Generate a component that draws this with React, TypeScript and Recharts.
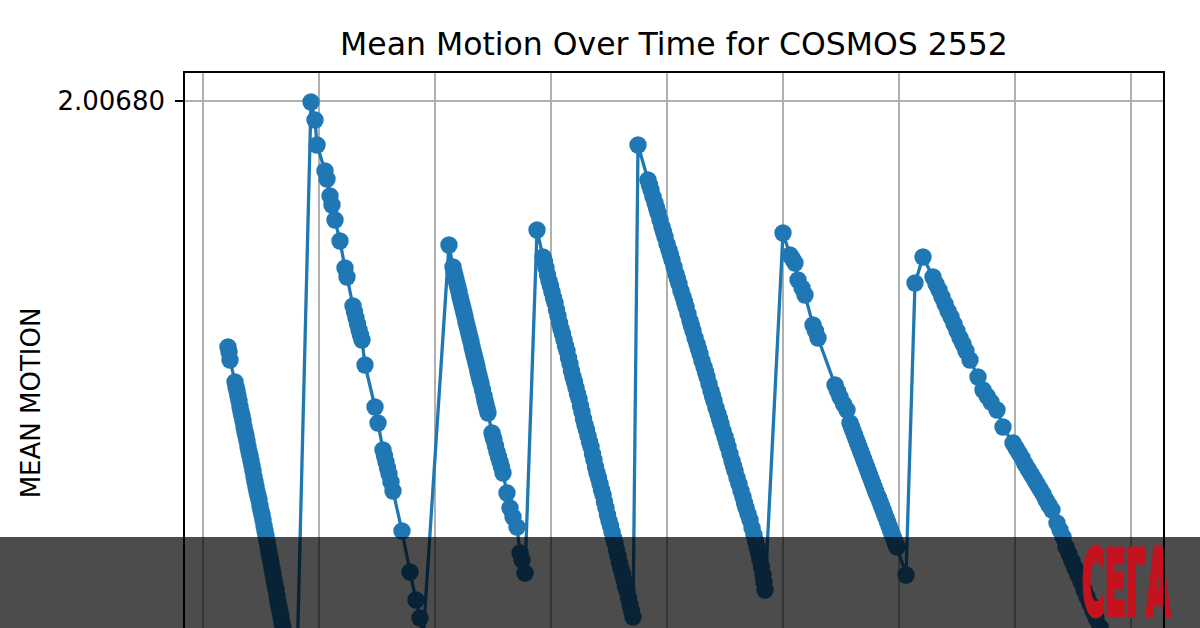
import React from 'react';
import { LineChart, Line, XAxis, YAxis, CartesianGrid, ReferenceArea } from 'recharts';

const chartTitle = 'Mean Motion Over Time for COSMOS 2552';
const yAxisLabel = 'MEAN MOTION';
const logoText = 'СЕГА';
const xTicks = [0, 20, 40, 60, 80, 100, 120, 140, 160];
const yTicks = [2.0068];
const xDomain: [number, number] = [-3.276, 165.69];
const yDomain: [number, number] = [2.0067367, 2.0068029];

// [day, mean motion (rev/day)]
const cycle1: [number, number][] = [
  [4.31, 2.0067754], [4.48, 2.0067749], [4.66, 2.0067741], [5.52, 2.0067719], [5.69, 2.0067714],
  [5.86, 2.006771], [6.03, 2.0067705], [6.21, 2.00677], [6.38, 2.0067694], [6.55, 2.0067689],
  [6.72, 2.0067685], [6.9, 2.006768], [7.07, 2.0067674], [7.24, 2.0067669], [7.41, 2.0067665],
  [7.59, 2.006766], [7.76, 2.0067654], [7.93, 2.0067649], [8.1, 2.0067645], [8.28, 2.006764],
  [8.45, 2.0067635], [8.62, 2.006763], [8.79, 2.0067624], [8.97, 2.0067619], [9.14, 2.0067614],
  [9.31, 2.0067609], [9.48, 2.0067605], [9.66, 2.0067601], [9.83, 2.0067595], [10.0, 2.006759],
  [10.17, 2.0067586], [10.34, 2.0067581], [10.52, 2.0067575], [10.69, 2.006757], [10.86, 2.0067565],
  [11.03, 2.006756], [11.2, 2.0067554], [11.38, 2.0067548], [11.55, 2.0067543], [11.72, 2.0067538],
  [11.9, 2.0067532], [12.07, 2.0067527], [12.24, 2.0067521], [12.41, 2.0067516], [12.59, 2.0067511],
  [12.76, 2.0067505], [12.93, 2.0067499], [13.1, 2.0067494], [13.28, 2.0067489], [13.45, 2.0067484],
  [13.62, 2.0067478], [13.79, 2.0067473], [13.97, 2.0067467], [14.14, 2.0067461], [14.31, 2.0067455],
  [14.48, 2.0067449], [14.66, 2.0067444], [14.83, 2.0067438], [15.0, 2.0067432], [15.17, 2.0067426],
  [15.34, 2.006742], [15.52, 2.0067413], [15.69, 2.0067408], [15.86, 2.0067403], [16.03, 2.0067397],
];
const cycle2: [number, number][] = [
  [18.62, 2.0067999], [19.31, 2.0067981], [19.66, 2.0067956], [21.03, 2.006793], [21.38, 2.0067922],
  [21.9, 2.0067905], [22.24, 2.0067896], [22.76, 2.0067881], [23.62, 2.006786], [24.48, 2.0067833],
  [24.83, 2.0067824], [25.86, 2.0067795], [26.12, 2.0067789], [26.38, 2.0067783], [26.64, 2.0067777],
  [26.9, 2.0067771], [27.15, 2.0067766], [27.41, 2.0067761], [27.93, 2.0067736], [29.66, 2.0067694],
  [30.17, 2.0067678], [31.03, 2.0067651], [31.29, 2.0067645], [31.55, 2.0067639], [31.81, 2.0067633],
  [32.07, 2.0067627], [32.41, 2.0067619], [32.76, 2.006761], [34.31, 2.006757], [35.69, 2.0067529],
  [36.72, 2.0067501], [37.41, 2.0067483], [37.93, 2.0067461],
];
const cycle3: [number, number][] = [
  [42.41, 2.0067856], [43.1, 2.0067834], [43.28, 2.0067829], [43.45, 2.0067825], [43.62, 2.0067821],
  [43.79, 2.0067817], [43.97, 2.0067813], [44.14, 2.0067809], [44.31, 2.0067804], [44.48, 2.00678],
  [44.66, 2.0067796], [44.83, 2.0067792], [45.0, 2.0067788], [45.17, 2.0067784], [45.34, 2.0067779],
  [45.52, 2.0067775], [45.69, 2.0067771], [45.86, 2.0067767], [46.03, 2.0067763], [46.21, 2.0067759],
  [46.38, 2.0067754], [46.55, 2.006775], [46.72, 2.0067746], [46.9, 2.0067742], [47.07, 2.0067738],
  [47.24, 2.0067734], [47.41, 2.0067729], [47.59, 2.0067725], [47.76, 2.0067721], [47.93, 2.0067717],
  [48.19, 2.0067711], [48.45, 2.0067705], [48.62, 2.00677], [48.79, 2.0067696], [48.97, 2.0067692],
  [49.14, 2.0067688], [49.83, 2.0067668], [50.0, 2.0067664], [50.17, 2.0067661], [50.43, 2.0067655],
  [50.69, 2.0067649], [50.95, 2.0067644], [51.21, 2.0067639], [51.47, 2.0067634], [51.72, 2.0067628],
  [52.41, 2.0067608], [52.93, 2.0067593], [53.45, 2.0067584], [54.14, 2.0067574], [54.66, 2.0067548],
  [55.0, 2.0067541], [55.52, 2.0067528],
];
const cycle4: [number, number][] = [
  [57.59, 2.0067871], [58.62, 2.0067844], [58.88, 2.0067839], [59.14, 2.0067833], [59.4, 2.0067826],
  [59.66, 2.006782], [59.91, 2.0067815], [60.17, 2.0067809], [60.43, 2.0067803], [60.69, 2.0067798],
  [60.95, 2.0067791], [61.21, 2.0067785], [61.47, 2.0067778], [61.72, 2.0067772], [61.98, 2.0067767],
  [62.24, 2.0067761], [62.5, 2.0067755], [62.76, 2.006775], [63.02, 2.0067743], [63.28, 2.0067737],
  [63.53, 2.006773], [63.79, 2.0067724], [64.05, 2.0067719], [64.31, 2.0067713], [64.57, 2.0067707],
  [64.83, 2.0067702], [65.09, 2.0067695], [65.34, 2.0067689], [65.6, 2.0067682], [65.86, 2.0067676],
  [66.12, 2.0067671], [66.38, 2.0067665], [66.64, 2.0067659], [66.9, 2.0067654], [67.16, 2.0067647],
  [67.41, 2.0067641], [67.67, 2.0067634], [67.93, 2.0067628], [68.19, 2.0067623], [68.45, 2.0067617],
  [68.71, 2.0067611], [68.97, 2.0067606], [69.22, 2.0067599], [69.48, 2.0067593], [69.74, 2.0067586],
  [70.0, 2.006758], [70.26, 2.0067575], [70.52, 2.0067569], [70.78, 2.0067563], [71.03, 2.0067558],
  [71.29, 2.0067551], [71.55, 2.0067545], [71.81, 2.0067538], [72.07, 2.0067532], [72.33, 2.0067527],
  [72.59, 2.0067521], [72.84, 2.0067515], [73.1, 2.006751], [73.36, 2.0067503], [73.62, 2.0067496],
  [73.88, 2.006749], [74.14, 2.0067484],
];
const cycle5: [number, number][] = [
  [75.0, 2.0067956], [76.72, 2.0067921], [76.98, 2.0067916], [77.24, 2.0067911], [77.59, 2.0067904],
  [77.93, 2.0067898], [78.19, 2.0067893], [78.45, 2.0067888], [78.79, 2.0067881], [79.14, 2.0067874],
  [79.4, 2.0067869], [79.66, 2.0067864], [80.0, 2.0067857], [80.34, 2.0067851], [80.6, 2.0067846],
  [80.86, 2.0067841], [81.21, 2.0067834], [81.55, 2.0067827], [81.81, 2.0067822], [82.07, 2.0067817],
  [82.41, 2.006781], [82.76, 2.0067804], [83.02, 2.0067799], [83.28, 2.0067794], [83.62, 2.0067787],
  [83.97, 2.006778], [84.22, 2.0067775], [84.48, 2.006777], [84.83, 2.0067763], [85.17, 2.0067757],
  [85.43, 2.0067752], [85.69, 2.0067747], [86.03, 2.006774], [86.38, 2.0067734], [86.64, 2.0067729],
  [86.9, 2.0067724], [87.24, 2.0067717], [87.59, 2.006771], [87.84, 2.0067705], [88.1, 2.00677],
  [88.45, 2.0067693], [88.79, 2.0067687], [89.05, 2.0067682], [89.31, 2.0067677], [89.66, 2.006767],
  [90.0, 2.0067664], [90.26, 2.0067659], [90.52, 2.0067654], [90.86, 2.0067647], [91.21, 2.006764],
  [91.47, 2.0067635], [91.72, 2.006763], [92.07, 2.0067623], [92.41, 2.0067617], [92.76, 2.006761],
  [93.1, 2.0067604], [93.36, 2.0067598], [93.62, 2.0067593], [93.97, 2.0067587], [94.31, 2.0067581],
  [94.66, 2.0067573], [95.0, 2.0067566], [95.26, 2.006756], [95.52, 2.0067554], [95.78, 2.0067548],
  [96.03, 2.0067541], [96.29, 2.0067534], [96.55, 2.0067526], [96.72, 2.0067519], [96.9, 2.0067511],
];
const cycle6: [number, number][] = [
  [100.0, 2.0067868], [101.21, 2.0067846], [101.64, 2.0067842], [102.07, 2.0067838], [102.59, 2.0067821],
  [103.28, 2.0067813], [103.79, 2.0067806], [105.17, 2.0067776], [105.6, 2.006777], [106.03, 2.0067763],
  [108.97, 2.0067716], [109.4, 2.006771], [109.83, 2.0067704], [110.43, 2.0067697], [111.03, 2.0067691],
  [111.55, 2.0067678], [111.81, 2.0067674], [112.07, 2.006767], [112.33, 2.0067666], [112.59, 2.0067662],
  [112.84, 2.0067658], [113.1, 2.0067654], [113.36, 2.006765], [113.62, 2.0067646], [113.88, 2.0067642],
  [114.14, 2.0067638], [114.4, 2.0067634], [114.66, 2.006763], [114.91, 2.0067626], [115.17, 2.0067622],
  [115.43, 2.0067618], [115.69, 2.0067614], [115.95, 2.006761], [116.21, 2.0067606], [116.47, 2.0067603],
  [116.72, 2.0067599], [116.98, 2.0067595], [117.24, 2.0067591], [117.5, 2.0067587], [117.76, 2.0067583],
  [118.02, 2.0067579], [118.28, 2.0067575], [118.53, 2.0067571], [118.79, 2.0067567], [119.05, 2.0067563],
  [119.31, 2.0067559], [119.48, 2.0067556], [119.66, 2.0067554], [121.21, 2.0067526],
];
const cycle7: [number, number][] = [
  [122.76, 2.0067818], [124.14, 2.0067844], [125.86, 2.0067824], [126.38, 2.0067817], [126.9, 2.0067811],
  [127.41, 2.0067804], [127.93, 2.0067797], [128.45, 2.006779], [128.97, 2.0067784], [129.48, 2.0067777],
  [130.0, 2.006777], [130.52, 2.0067763], [131.03, 2.0067757], [131.55, 2.006775], [132.24, 2.0067741],
  [133.62, 2.0067724], [134.48, 2.0067711], [135.17, 2.0067705], [135.86, 2.0067699], [136.9, 2.0067691],
  [137.93, 2.0067674], [139.66, 2.0067658], [140.17, 2.0067653], [140.69, 2.0067648], [141.21, 2.0067643],
  [141.72, 2.0067637], [142.24, 2.0067632], [142.76, 2.0067627], [143.28, 2.0067622], [143.79, 2.0067617],
  [144.31, 2.0067612], [144.83, 2.0067607], [145.34, 2.0067601], [145.86, 2.0067596], [146.38, 2.0067591],
  [147.24, 2.0067578], [147.76, 2.0067571], [148.28, 2.0067564], [148.79, 2.0067554], [149.31, 2.0067547],
  [149.83, 2.006754], [150.34, 2.0067533], [150.86, 2.0067526], [151.38, 2.0067519], [151.9, 2.0067511],
  [152.41, 2.0067504], [152.93, 2.0067497], [153.45, 2.006749], [153.97, 2.0067483], [154.66, 2.0067474],
  [155.34, 2.0067465], [156.03, 2.0067457], [156.72, 2.0067449], [157.41, 2.0067441], [158.1, 2.0067433],
];

const cycles = [cycle1, cycle2, cycle3, cycle4, cycle5, cycle6, cycle7];
const data = cycles.flat().map(([day, mm]) => ({ day, mm }));

const FONT = 'DejaVu Sans, Verdana, sans-serif';
const BLUE = '#1f77b4';

const EmptyTick = () => <g />;

export default function App() {
  return (
    <div
      style={{
        position: 'absolute',
        left: 0,
        top: 0,
        width: 1200,
        height: 628,
        overflow: 'hidden',
        background: '#ffffff',
      }}
    >
      <LineChart width={1200} height={760} data={data} margin={{ top: 72, right: 36, bottom: 0, left: 0 }}>
        <CartesianGrid stroke="#b0b0b0" strokeWidth={2} />
        <XAxis
          dataKey="day"
          type="number"
          domain={xDomain}
          ticks={xTicks}
          allowDataOverflow
          height={26}
          axisLine={false}
          tickLine={false}
          tick={EmptyTick}
        />
        <YAxis
          type="number"
          domain={yDomain}
          ticks={yTicks}
          allowDataOverflow
          width={184}
          axisLine={false}
          tickLine={{ stroke: '#000', strokeWidth: 2 }}
          tickSize={9}
          tickMargin={10}
          tickFormatter={(v: number) => v.toFixed(5)}
          tick={{ fontSize: 26, fill: '#000', fontFamily: FONT }}
        />
        <ReferenceArea
          x1={xDomain[0]}
          x2={xDomain[1]}
          y1={yDomain[0]}
          y2={yDomain[1]}
          fill="none"
          fillOpacity={0}
          stroke="#000"
          strokeWidth={2}
          ifOverflow="visible"
        />
        <Line
          type="linear"
          dataKey="mm"
          stroke={BLUE}
          strokeWidth={3.3}
          dot={{ r: 8.7, fill: BLUE, stroke: BLUE, strokeWidth: 0 }}
          activeDot={false}
          isAnimationActive={false}
        />
      </LineChart>
      <svg
        width={1200}
        height={628}
        style={{ position: 'absolute', left: 0, top: 0, pointerEvents: 'none' }}
      >
        <text x={674} y={55} textAnchor="middle" fontFamily={FONT} fontSize={31.5} fill="#000">
          {chartTitle}
        </text>
        <text
          x={39.5}
          y={403}
          textAnchor="middle"
          fontFamily={FONT}
          fontSize={26}
          fill="#000"
          transform="rotate(-90, 39.5, 403)"
        >
          {yAxisLabel}
        </text>
        <rect x={0} y={537} width={1200} height={91} fill="#000" fillOpacity={0.7} />
        <text
          x={1170}
          y={615}
          textAnchor="end"
          fontFamily="Liberation Sans Narrow, DejaVu Sans Condensed, Liberation Sans, sans-serif"
          fontWeight="bold"
          fontSize={90}
          fill="#c5121f"
          stroke="#c5121f"
          strokeWidth={5}
          strokeLinejoin="miter"
          textLength={88}
          lengthAdjust="spacingAndGlyphs"
        >
          {logoText}
        </text>
        <line x1={1164} y1={537} x2={1164} y2={628} stroke="#000" strokeWidth={2} />
      </svg>
    </div>
  );
}
